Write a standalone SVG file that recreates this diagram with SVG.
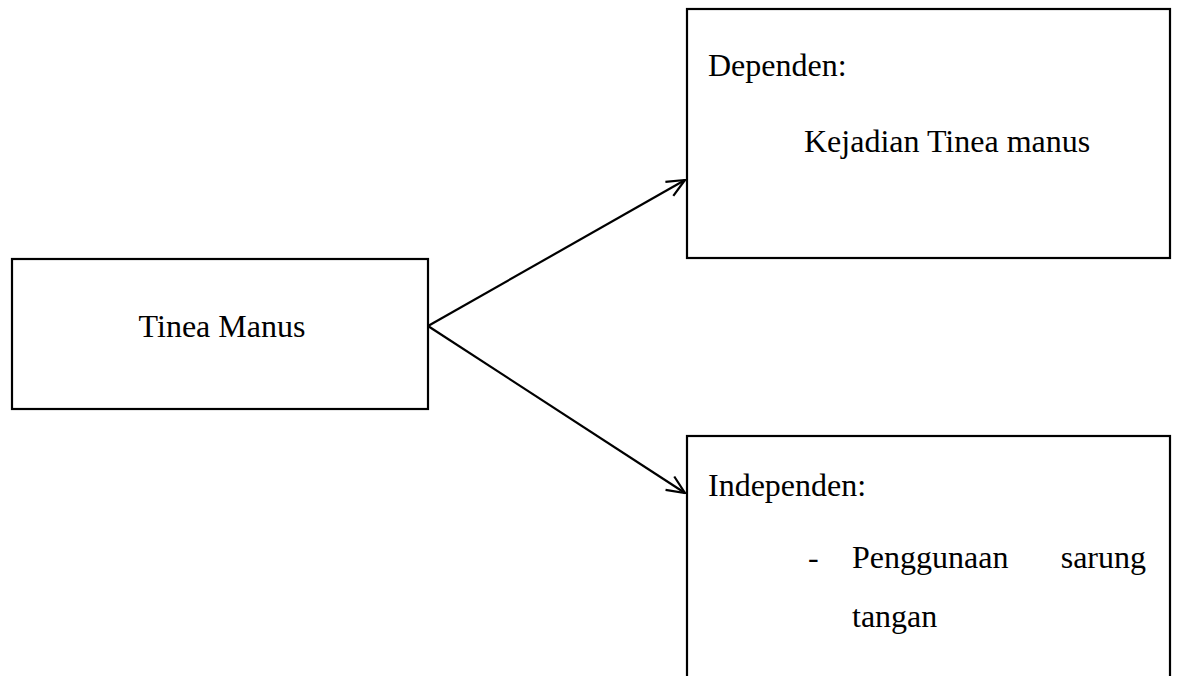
<svg xmlns="http://www.w3.org/2000/svg" width="1179" height="676" viewBox="0 0 1179 676">
<style>
.box{fill:#fff;stroke:#000;stroke-width:2.2}
.t{font-family:"Liberation Serif","Times New Roman",serif;font-size:32px;fill:#000}
.c{fill:none;stroke:#000;stroke-width:2.2}
</style>
<defs>
<marker id="arr" viewBox="0 0 20 20" refX="19" refY="10" markerWidth="20" markerHeight="20" markerUnits="userSpaceOnUse" orient="auto">
<path d="M1,2 L19,10 L1,18" fill="none" stroke="#000" stroke-width="2.2"/>
</marker>
</defs>
<rect width="1179" height="676" fill="#fff"/>
<g id="tinea-manus">
<rect class="box" x="12" y="259" width="416" height="150"/>
<text class="t" x="222" y="337" text-anchor="middle">Tinea Manus</text>
</g>
<g id="dependen">
<rect class="box" x="687" y="9" width="483" height="249"/>
<text class="t" x="708" y="76">Dependen:</text>
<text class="t" x="804" y="152">Kejadian Tinea manus</text>
</g>
<g id="independen">
<rect class="box" x="687" y="436" width="483" height="260"/>
<text class="t" x="708" y="496">Independen:</text>
<text class="t" x="808" y="568">-</text>
<text class="t" x="852" y="568">Penggunaan</text>
<text class="t" x="1146" y="568" text-anchor="end">sarung</text>
<text class="t" x="852" y="627">tangan</text>
</g>
<g id="connectors">
<line class="c" x1="428" y1="326" x2="685" y2="180" marker-end="url(#arr)"/>
<line class="c" x1="428" y1="326" x2="685" y2="493" marker-end="url(#arr)"/>
</g>
</svg>
